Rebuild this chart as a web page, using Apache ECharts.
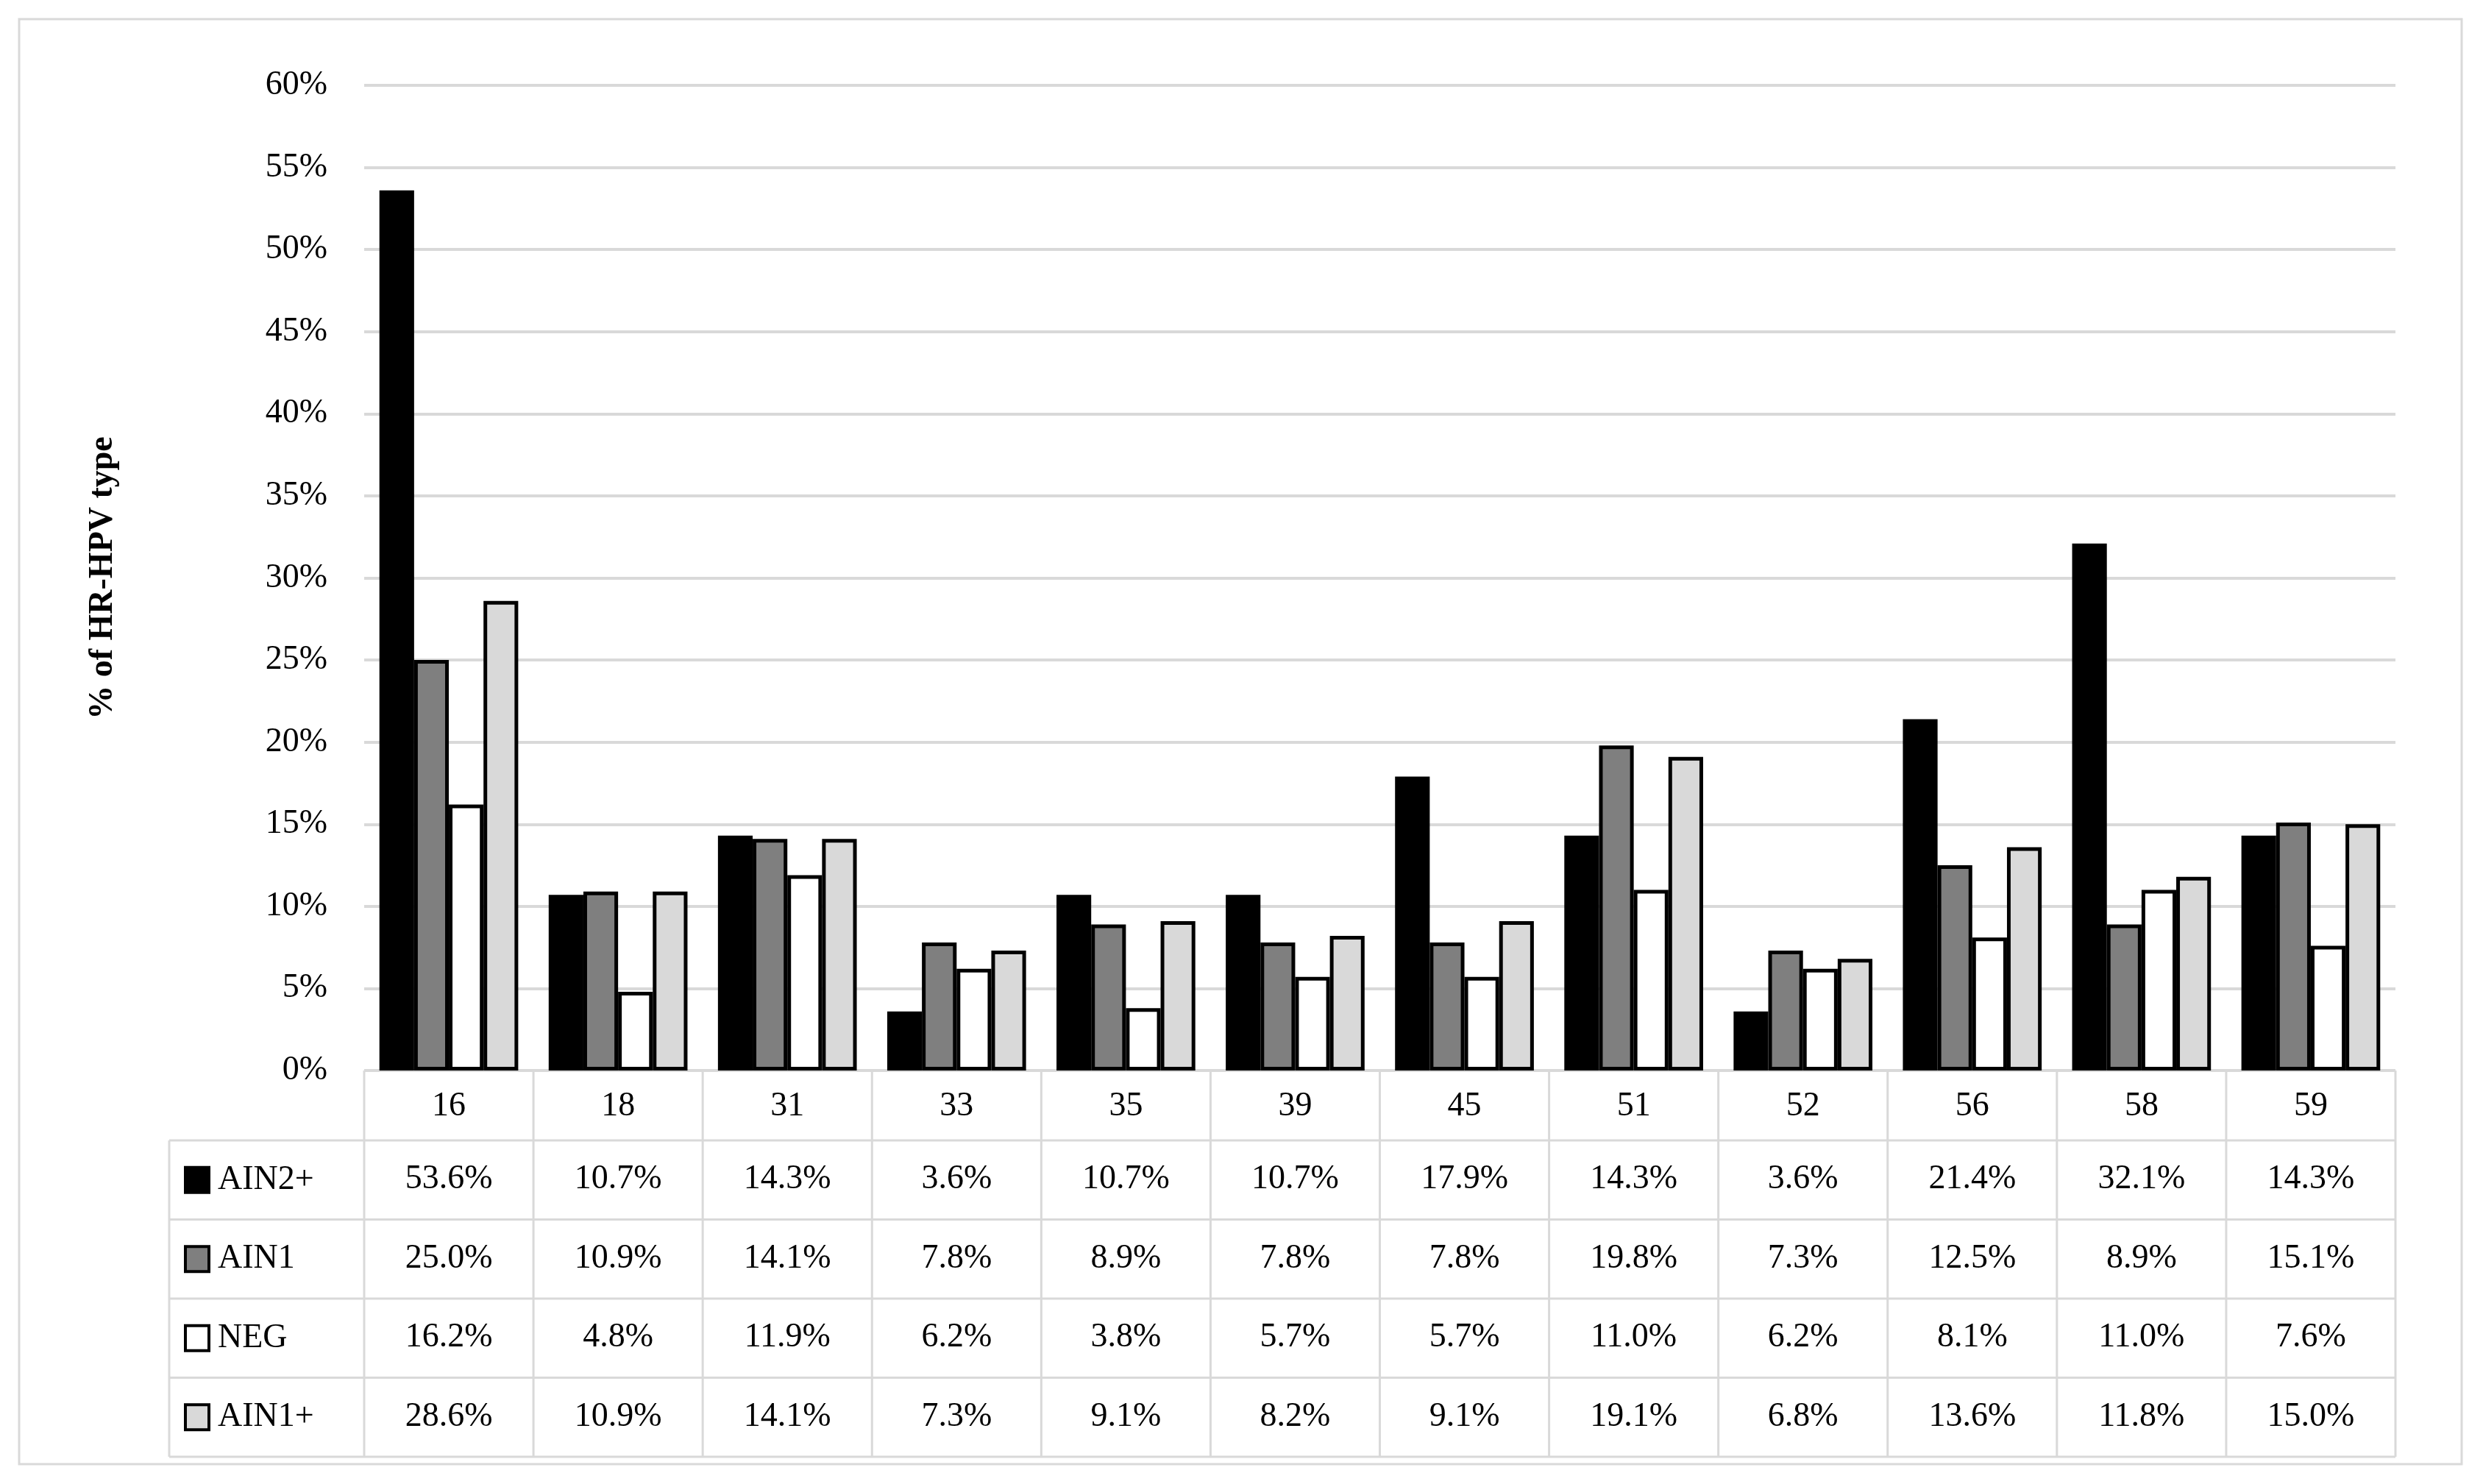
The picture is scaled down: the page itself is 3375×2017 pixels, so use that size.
<!DOCTYPE html>
<html><head><meta charset="utf-8">
<script src="https://cdn.jsdelivr.net/npm/echarts@6/dist/echarts.min.js"></script>
<style>html,body{margin:0;background:#fff}#c{width:3375px;height:2017px}</style>
</head><body><div id="c"></div>
<script>
var types = ['16','18','31','33','35','39','45','51','52','56','58','59'];
var ain2 = [53.6,10.7,14.3,3.6,10.7,10.7,17.9,14.3,3.6,21.4,32.1,14.3];
var ain1 = [25.0,10.9,14.1,7.8,8.9,7.8,7.8,19.8,7.3,12.5,8.9,15.1];
var neg = [16.2,4.8,11.9,6.2,3.8,5.7,5.7,11.0,6.2,8.1,11.0,7.6];
var ain1p = [28.6,10.9,14.1,7.3,9.1,8.2,9.1,19.1,6.8,13.6,11.8,15.0];
var names = ['AIN2+','AIN1','NEG','AIN1+'];
var colors = ['#000000','#7f7f7f','#ffffff','#d9d9d9'];
var all = [ain2, ain1, neg, ain1p];

var L = 495, R = 3256, T = 116, B = 1455, rowH = 107.5, tabL = 230;
var font = 'Liberation Serif';
var chart = echarts.init(document.getElementById('c'));

var xAxes = [{type:'category', data: types, gridIndex:0,
  axisLine:{show:false}, axisTick:{show:false},
  axisLabel:{fontSize:46, fontFamily:font, color:'#000', margin:26}}];
for (var k = 0; k < 4; k++) {
  xAxes.push({type:'category', gridIndex:0, position:'bottom', offset: 95 + rowH*k,
    data: all[k].map(function(v){return v.toFixed(1)+'%';}),
    axisLine:{show:false}, axisTick:{show:false},
    axisLabel:{fontSize:46, fontFamily:font, color:'#000', margin:30}});
}

var series = all.map(function(d, i){
  return {name:names[i], type:'bar', data:d, xAxisIndex:0,
    barGap:'0%', barCategoryGap:'18%',
    itemStyle:{color:colors[i], borderColor:'#000', borderWidth:5}};
});

var g = [];
g.push({type:'rect', shape:{x:26,y:26,width:3320,height:1964}, style:{fill:'none', stroke:'#d9d9d9', lineWidth:3}});
var cw = (R - L) / types.length;
for (var i = 0; i <= types.length; i++) {
  var x = L + cw*i;
  g.push({type:'line', shape:{x1:x,y1:B,x2:x,y2:B+95+rowH*4}, style:{stroke:'#d9d9d9', lineWidth:3}});
}
g.push({type:'line', shape:{x1:tabL,y1:B+95,x2:tabL,y2:B+95+rowH*4}, style:{stroke:'#d9d9d9', lineWidth:3}});
for (var r = 0; r <= 4; r++) {
  var y = B + 95 + rowH*r;
  g.push({type:'line', shape:{x1:tabL,y1:y,x2:R,y2:y}, style:{stroke:'#d9d9d9', lineWidth:3}});
}
for (var r = 0; r < 4; r++) {
  var cy = B + 95 + rowH*r + rowH/2;
  g.push({type:'rect', shape:{x:252,y:cy-17,width:32,height:34}, style:{fill:colors[r], stroke:'#000', lineWidth:4}});
  g.push({type:'text', x:296, y:cy, style:{text:names[r], font:'46px "'+font+'"', fill:'#000', verticalAlign:'middle'}});
}
g.push({type:'text', x:140, y:(T+B)/2, rotation:Math.PI/2,
  style:{text:'% of HR-HPV type', font:'bold 46px "'+font+'"', fill:'#000', align:'center', verticalAlign:'middle'}});

chart.setOption({
  backgroundColor:'#fff',
  animation:false,
  grid:{left:L, right:3375-R, top:T, bottom:2017-B},
  xAxis: xAxes,
  yAxis:{type:'value', min:0, max:60, interval:5,
    axisLine:{show:false}, axisTick:{show:false},
    axisLabel:{formatter:'{value}%', fontSize:46, fontFamily:font, color:'#000', margin:50},
    splitLine:{lineStyle:{color:'#d9d9d9', width:4}}},
  series: series,
  graphic: g
});
</script></body></html>
